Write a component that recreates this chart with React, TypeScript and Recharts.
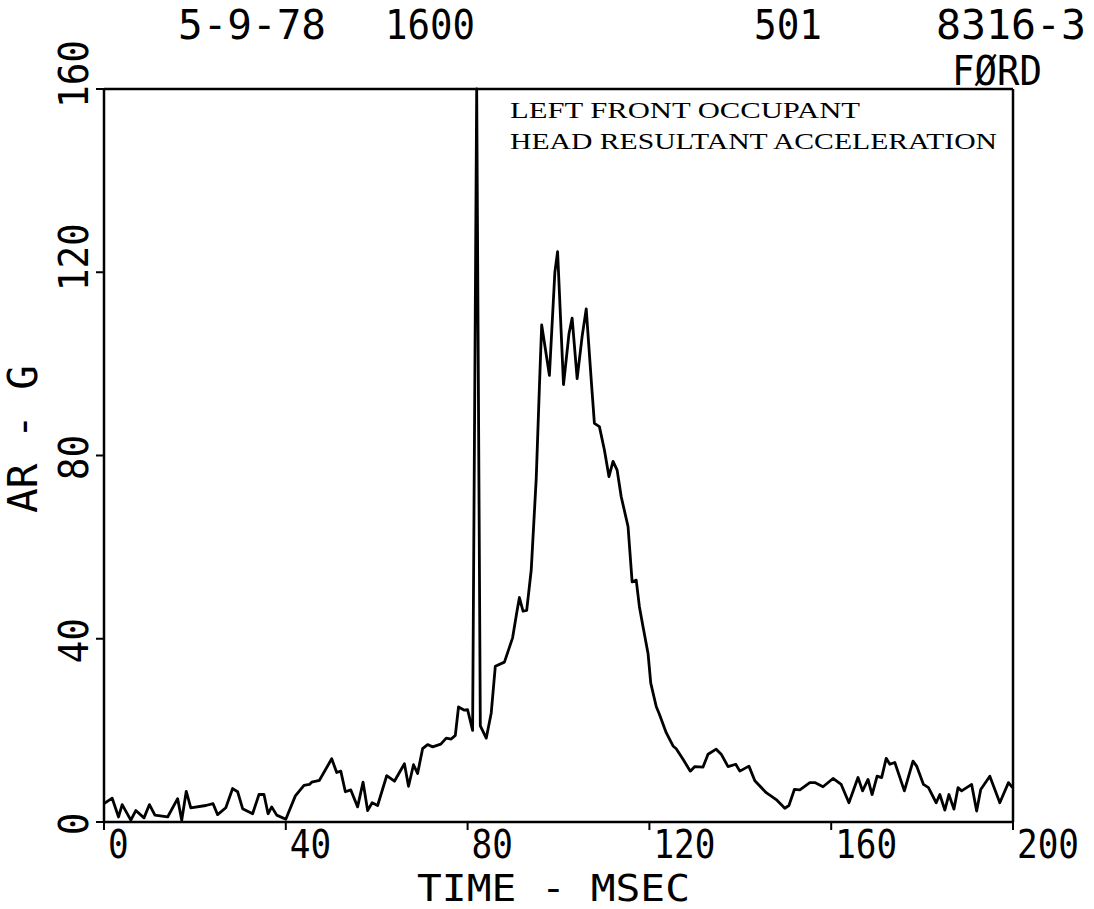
import React from 'react';
import { LineChart, Line, XAxis, YAxis, ReferenceLine } from 'recharts';

// Time (msec) and head resultant acceleration (G)
const timeMs = [
  0, 1.8, 3.2, 4.0, 5.9, 7.0, 8.8, 10.0, 11.2, 14.0, 16.2, 17.1, 18.1, 19.1, 22.4, 24.0, 25.0, 26.8, 28.3, 29.4,
  30.5, 32.7, 34.1, 35.2, 36.1, 36.9, 38.0, 40.0, 42.1, 44.0, 45.2, 45.7, 47.4, 50.1, 51.2, 52.1, 53.1, 54.3, 55.8, 57.0,
  58.0, 59.0, 60.2, 62.2, 63.9, 66.1, 67.0, 68.1, 69.0, 70.1, 71.2, 72.3, 74.1, 75.3, 76.4, 77.3, 78.0, 79.3, 80.0, 81.1,
  82.0, 82.8, 84.1, 85.2, 86.1, 88.1, 89.9, 90.8, 91.4, 92.2, 93.0, 94.0, 95.1, 95.8, 96.3, 98.0, 99.2, 99.8, 101.1, 102.3,
  103.0, 104.1, 105.2, 106.1, 107.2, 107.9, 109.0, 110.1, 111.1, 112.0, 112.9, 113.8, 115.3, 116.2, 117.1, 117.8, 118.6, 119.7, 120.3, 121.5,
  122.2, 123.7, 125.2, 125.9, 127.4, 129.0, 130.0, 131.8, 132.9, 134.7, 135.8, 137.3, 139.0, 139.9, 141.9, 143.2, 145.7, 147.9, 149.8, 150.7,
  151.9, 153.1, 155.3, 156.4, 158.2, 160.4, 162.2, 163.9, 165.9, 166.9, 168.1, 169.0, 170.1, 171.1, 172.1, 172.9, 174.0, 176.1, 178.0, 178.8,
  180.3, 181.4, 183.1, 183.9, 185.0, 185.9, 187.0, 187.9, 188.7, 190.9, 192.0, 192.9, 194.9, 197.1, 199.0, 199.9,
];
const accelG = [
  4.0, 5.2, 1.1, 3.8, 0.4, 2.5, 0.9, 3.8, 1.5, 1.1, 5.1, 0.4, 6.7, 3.1, 3.6, 4.0, 1.6, 3.1, 7.3, 6.6,
  2.9, 1.8, 6.0, 6.0, 1.8, 3.3, 1.5, 0.6, 5.7, 8.0, 8.2, 8.7, 9.1, 13.8, 10.8, 11.1, 6.6, 7.0, 3.3, 8.7,
  2.5, 4.2, 3.6, 10.1, 8.9, 12.7, 7.8, 12.5, 10.6, 16.0, 16.9, 16.4, 17.0, 18.3, 18.1, 18.9, 25.1, 24.4, 24.5, 20.0,
  160, 21.0, 18.3, 23.8, 34.0, 34.9, 40.2, 45.6, 49.0, 46.0, 46.2, 55.0, 75.0, 95.0, 108.5, 97.5, 120.0, 124.5, 95.5, 106.5,
  110.0, 96.8, 106.0, 112.0, 96.5, 87.0, 86.3, 81.2, 75.4, 78.7, 76.8, 71.0, 64.5, 52.4, 52.8, 47.0, 42.6, 36.8, 30.3, 25.2,
  23.5, 19.5, 16.6, 16.0, 13.7, 11.1, 12.1, 12.0, 14.8, 15.9, 14.8, 12.1, 12.6, 11.1, 12.2, 9.0, 6.4, 4.9, 3.0, 3.6,
  7.1, 7.0, 8.6, 8.6, 7.7, 9.5, 8.2, 4.2, 9.7, 6.8, 9.3, 6.0, 10.0, 9.7, 13.9, 12.6, 13.0, 6.8, 13.3, 12.2,
  8.2, 7.5, 4.2, 6.0, 2.6, 6.0, 2.8, 7.5, 6.8, 8.2, 2.4, 7.1, 10.0, 4.2, 8.6, 7.5,
];

const xTicks = [0, 40, 80, 120, 160, 200];
const yTicks = [0, 40, 80, 120, 160];
const xTitle = 'TIME - MSEC';
const yTitle = 'AR - G';
const headerTexts = ['5-9-78', '1600', '501', '8316-3', 'FØRD'];
const noteLines = ['LEFT FRONT OCCUPANT', 'HEAD RESULTANT ACCELERATION'];

const data = timeMs.map((t, i) => ({ t, g: accelG[i] }));

const PLOT_FONT = '"DejaVu Sans Mono", "Liberation Mono", monospace';
const NOTE_FONT = '"Liberation Serif", "DejaVu Serif", serif';

const XTick = (props: any) => {
  const { x, payload } = props;
  return (
    <text
      x={0}
      y={0}
      transform={`translate(${x + 4} 858) scale(0.88 1)`}
      fontFamily={PLOT_FONT}
      fontSize={39}
      fill="#000"
      textAnchor="start"
    >
      {String(payload.value)}
    </text>
  );
};

const YTick = (props: any) => {
  const { y, payload } = props;
  const label = String(payload.value);
  const off = label.length >= 3 ? -15 : 2;
  return (
    <text
      x={0}
      y={0}
      transform={`translate(88 ${y + off}) rotate(-90) scale(0.92 1)`}
      fontFamily={PLOT_FONT}
      fontSize={41}
      fill="#000"
      textAnchor="middle"
    >
      {label}
    </text>
  );
};

export default function App() {
  return (
    <div style={{ position: 'absolute', left: 0, top: 0, width: 1094, height: 909, background: '#fff' }}>
      <LineChart width={1094} height={909} data={data} margin={{ top: 89, right: 81, bottom: 0, left: 0 }}>
        <XAxis
          dataKey="t"
          type="number"
          domain={[0, 200]}
          ticks={xTicks}
          height={87}
          axisLine={{ stroke: '#000', strokeWidth: 2.5 }}
          tickLine={{ stroke: '#000', strokeWidth: 2 }}
          tickSize={8}
          tick={(p: any) => <XTick {...p} />}
          interval={0}
        />
        <YAxis
          type="number"
          domain={[0, 160]}
          ticks={yTicks}
          width={104}
          axisLine={{ stroke: '#000', strokeWidth: 2.5 }}
          tickLine={{ stroke: '#000', strokeWidth: 2 }}
          tickSize={8}
          tick={(p: any) => <YTick {...p} />}
          interval={0}
        />
        <ReferenceLine y={160} stroke="#000" strokeWidth={2.5} />
        <ReferenceLine x={200} stroke="#000" strokeWidth={2.5} />
        <Line
          type="linear"
          dataKey="g"
          stroke="#000"
          strokeWidth={2.8}
          dot={false}
          isAnimationActive={false}
          strokeLinejoin="round"
        />
      </LineChart>
      <svg
        width={1094}
        height={909}
        style={{ position: 'absolute', left: 0, top: 0, pointerEvents: 'none' }}
      >
        <g fontFamily={PLOT_FONT} fontSize={40} fill="#000">
          <text x={178} y={39} textLength={148} lengthAdjust="spacingAndGlyphs">{headerTexts[0]}</text>
          <text x={385} y={39} textLength={90} lengthAdjust="spacingAndGlyphs">{headerTexts[1]}</text>
          <text x={754} y={39} textLength={68} lengthAdjust="spacingAndGlyphs">{headerTexts[2]}</text>
          <text x={936} y={39} textLength={150} lengthAdjust="spacingAndGlyphs">{headerTexts[3]}</text>
          <text x={952} y={85} textLength={90} lengthAdjust="spacingAndGlyphs">{headerTexts[4]}</text>
          <text x={417} y={901} textLength={273} lengthAdjust="spacingAndGlyphs" fontSize={37}>{xTitle}</text>
          <text x={0} y={0} transform="translate(37 439) rotate(-90)" textAnchor="middle" fontSize={41}>{yTitle}</text>
        </g>
        <g fontFamily={NOTE_FONT} fontSize={24} fill="#000">
          <text x={510} y={118} textLength={350} lengthAdjust="spacingAndGlyphs">{noteLines[0]}</text>
          <text x={510} y={149} textLength={487} lengthAdjust="spacingAndGlyphs">{noteLines[1]}</text>
        </g>
      </svg>
    </div>
  );
}
